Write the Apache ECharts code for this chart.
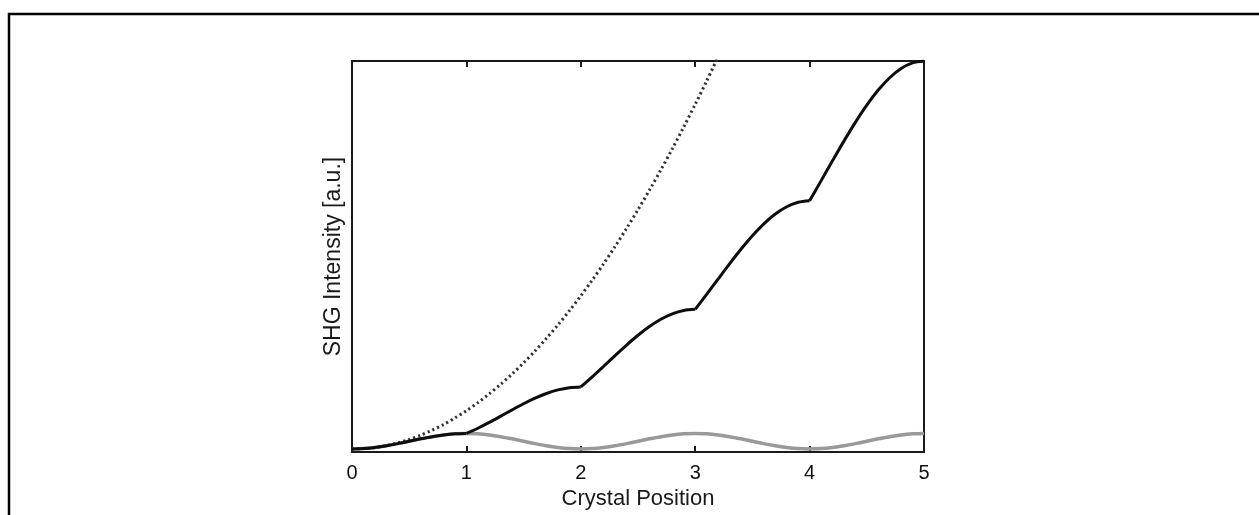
<!DOCTYPE html>
<html>
<head>
<meta charset="utf-8">
<script src="https://cdn.jsdelivr.net/npm/echarts@6/dist/echarts.min.js"></script>
<style>
  html, body { margin: 0; padding: 0; background: #fff; }
  #chart { width: 1259px; height: 515px; }
</style>
</head>
<body>
<div id="chart"></div>
<script>
// Crystal position samples (step 0.1)
const positions = [0,0.1,0.2,0.3,0.4,0.5,0.6,0.7,0.8,0.9,1,1.1,1.2,1.3,1.4,1.5,1.6,1.7,1.8,1.9,2,2.1,2.2,2.3,2.4,2.5,2.6,2.7,2.8,2.9,3,3.1,3.2,3.3,3.4,3.5,3.6,3.7,3.8,3.9,4,4.1,4.2,4.3,4.4,4.5,4.6,4.7,4.8,4.9,5];
const xTicks = [0, 1, 2, 3, 4, 5];

// Quasi-phase-matched SHG intensity (solid black)
const qpmIntensity = [0,0.098,0.382,0.824,1.382,2,2.618,3.176,3.618,3.902,4,
  5.35,6.854,8.457,10.084,11.657,13.09,14.303,15.226,15.804,16,
  18.601,21.326,24.088,26.787,29.314,31.562,33.432,34.835,35.705,36,
  39.853,43.798,47.72,51.489,54.97,58.034,60.56,62.443,63.607,64,
  69.104,74.27,79.352,84.192,88.627,92.506,95.688,98.052,99.509,100];

// Non-phase-matched SHG intensity (grey)
const noPmIntensity = [0,0.098,0.382,0.824,1.382,2,2.618,3.176,3.618,3.902,4,
  3.902,3.618,3.176,2.618,2,1.382,0.824,0.382,0.098,0,
  0.098,0.382,0.824,1.382,2,2.618,3.176,3.618,3.902,4,
  3.902,3.618,3.176,2.618,2,1.382,0.824,0.382,0.098,0,
  0.098,0.382,0.824,1.382,2,2.618,3.176,3.618,3.902,4];

// Perfectly phase-matched SHG intensity (dotted), leaves the plot near 3.18
const pmPositions = [0,0.1,0.2,0.3,0.4,0.5,0.6,0.7,0.8,0.9,1,1.1,1.2,1.3,1.4,1.5,1.6,1.7,1.8,1.9,2,2.1,2.2,2.3,2.4,2.5,2.6,2.7,2.8,2.9,3,3.1,3.2];
const pmIntensity = [0,0.099,0.395,0.888,1.579,2.467,3.553,4.836,6.317,7.994,9.87,
  11.942,14.212,16.68,19.344,22.207,25.266,28.523,31.977,35.629,39.478,
  43.525,47.769,52.21,56.849,61.685,66.718,71.949,77.378,83.003,88.826,94.847,101.065];

const zip = (xs, ys) => xs.map((x, i) => [x, ys[i]]);

// QPM curve is drawn one coherence length at a time so the kinks stay sharp
const qpmPoints = zip(positions, qpmIntensity);
const qpmSegments = [];
for (let k = 0; k < 5; k++) qpmSegments.push(qpmPoints.slice(k * 10, k * 10 + 11));

const chart = echarts.init(document.getElementById('chart'), null, { renderer: 'canvas' });
const FONT = '"Liberation Sans", Arial, sans-serif';
const axisLineStyle = { color: '#1a1a1a', width: 2 };

const series = [{
  name: 'No phase matching', type: 'line', data: zip(positions, noPmIntensity),
  smooth: 0.3, showSymbol: false, clip: true,
  lineStyle: { color: '#999', width: 3.5 }
}, {
  name: 'Perfect phase matching', type: 'line', data: zip(pmPositions, pmIntensity),
  smooth: 0.3, showSymbol: false, clip: true,
  lineStyle: { color: '#333', width: 3, type: [2.2, 3] }
}];
qpmSegments.forEach(seg => series.push({
  name: 'QPM', type: 'line', data: seg,
  smooth: 0.3, showSymbol: false, clip: true,
  lineStyle: { color: '#0d0d0d', width: 3 }
}));

chart.setOption({
  animation: false,
  backgroundColor: '#fff',
  grid: { left: 352, right: 335, top: 61, bottom: 62, containLabel: false },
  graphic: [{
    type: 'rect',
    shape: { x: 9, y: 14, width: 1400, height: 700 },
    style: { fill: 'none', stroke: '#000', lineWidth: 2.5 },
    silent: true
  }],
  xAxis: [{
    type: 'value', min: 0, max: 5, interval: 1, position: 'bottom',
    name: 'Crystal Position', nameLocation: 'middle', nameGap: 24,
    nameTextStyle: { fontFamily: FONT, fontSize: 22, color: '#1a1a1a' },
    axisLine: { show: true, onZero: false, lineStyle: axisLineStyle },
    axisTick: { show: true, inside: true, length: 6, lineStyle: axisLineStyle },
    axisLabel: { show: true, margin: 11, fontFamily: FONT, fontSize: 20, color: '#111',
      formatter: v => xTicks.includes(v) ? String(v) : '' },
    splitLine: { show: false }
  }, {
    type: 'value', min: 0, max: 5, interval: 1, position: 'top',
    axisLine: { show: true, onZero: false, lineStyle: axisLineStyle },
    axisTick: { show: true, inside: true, length: 6, lineStyle: axisLineStyle },
    axisLabel: { show: false }, splitLine: { show: false }
  }],
  yAxis: [{
    type: 'value', min: -0.8, max: 100, position: 'left',
    name: 'SHG Intensity [a.u.]', nameLocation: 'middle', nameGap: 7, nameRotate: 90,
    nameTextStyle: { fontFamily: FONT, fontSize: 23, color: '#1a1a1a' },
    axisLine: { show: true, onZero: false, lineStyle: axisLineStyle },
    axisTick: { show: false }, axisLabel: { show: false }, splitLine: { show: false }
  }, {
    type: 'value', min: -0.8, max: 100, position: 'right',
    axisLine: { show: true, onZero: false, lineStyle: axisLineStyle },
    axisTick: { show: false }, axisLabel: { show: false }, splitLine: { show: false }
  }],
  series: series
});
</script>
</body>
</html>
